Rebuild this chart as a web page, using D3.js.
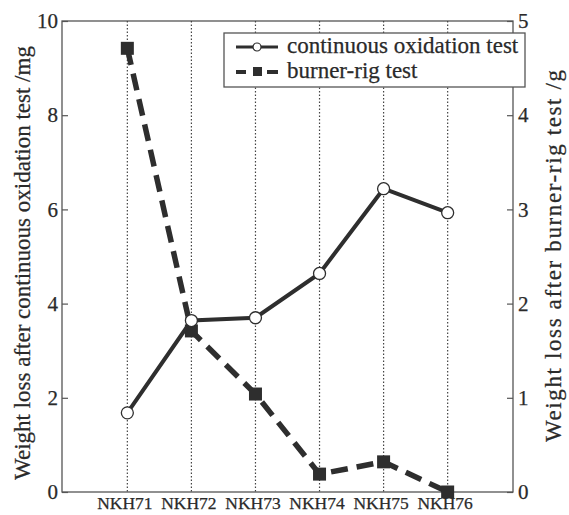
<!DOCTYPE html>
<html><head><meta charset="utf-8">
<script src="https://cdn.jsdelivr.net/npm/d3@7"></script>
<style>body{margin:0;background:#fff}</style>
</head><body><svg id="c" width="569" height="515"></svg>
<script>
const categories = ["NKH71","NKH72","NKH73","NKH74","NKH75","NKH76"];
const oxidation = [1.68, 3.64, 3.7, 4.64, 6.44, 5.93];
const burner = [4.71, 1.71, 1.04, 0.19, 0.32, 0.0];
const leftTicks = [0,2,4,6,8,10];
const rightTicks = [0,1,2,3,4,5];
const seriesNames = ["continuous oxidation test","burner-rig test"];
const leftTitle = "Weight loss after continuous oxidation test  /mg";
const rightTitle = "Weight loss after burner-rig test  /g";

const FONT = "Liberation Serif";
const TXT = "#2a2a2a";
const svg = d3.select("#c");
const L=62, R=513, T=21, B=492;
const col="#2e2e2e";
const x = d3.scalePoint().domain(categories).range([L,R]).padding(1.02);
const yL = d3.scaleLinear().domain([0,10]).range([B,T]);
const yR = d3.scaleLinear().domain([0,5]).range([B,T]);

function styleText(sel, size){
  sel.attr("font-family",FONT).attr("font-size",size).attr("fill",TXT)
     .attr("stroke",TXT).attr("stroke-width",0.25);
  return sel;
}

// frame
svg.append("rect").attr("x",L).attr("y",T).attr("width",R-L).attr("height",B-T)
  .attr("fill","none").attr("stroke","#555").attr("stroke-width",1.3);
// dotted verticals
svg.selectAll("line.g").data(categories).join("line")
  .attr("x1",d=>x(d)).attr("x2",d=>x(d)).attr("y1",T).attr("y2",B)
  .attr("stroke","#444").attr("stroke-width",1.2).attr("stroke-dasharray","1.5,2");

// axes
const ax = svg.append("g").attr("transform",`translate(${L},0)`)
  .call(d3.axisLeft(yL).tickValues(leftTicks).tickSize(-6).tickPadding(4).tickFormat(d3.format("d")));
const ar = svg.append("g").attr("transform",`translate(${R},0)`)
  .call(d3.axisRight(yR).tickValues(rightTicks).tickSize(-6).tickPadding(5).tickFormat(d3.format("d")));
[ax,ar].forEach(a=>{a.select(".domain").remove();a.selectAll("line").attr("stroke","#555").attr("stroke-width",1.2);
  styleText(a.selectAll("text"),21);});
const ab = svg.append("g").attr("transform",`translate(0,${B})`)
  .call(d3.axisBottom(x).tickSize(0).tickPadding(5));
ab.select(".domain").remove();
styleText(ab.selectAll("text"),17.5);
ab.selectAll("text").attr("dx",-3);

// titles
styleText(svg.append("text").attr("transform",`translate(30,263) rotate(-90)`).attr("text-anchor","middle")
  .text(leftTitle), 23);
styleText(svg.append("text").attr("transform",`translate(561,256) rotate(-90)`).attr("text-anchor","middle")
  .attr("textLength",372).attr("lengthAdjust","spacing")
  .text(rightTitle), 23);

// burner line
svg.append("path").datum(burner)
  .attr("d",d3.line().x((d,i)=>x(categories[i])).y(d=>yR(d)))
  .attr("fill","none").attr("stroke",col).attr("stroke-width",5.5).attr("stroke-dasharray","17,9");
svg.selectAll("rect.s").data(burner).join("rect")
  .attr("x",(d,i)=>x(categories[i])-6.5).attr("y",d=>yR(d)-6.5).attr("width",13).attr("height",13).attr("fill",col);
// oxidation line
svg.append("path").datum(oxidation)
  .attr("d",d3.line().x((d,i)=>x(categories[i])).y(d=>yL(d)))
  .attr("fill","none").attr("stroke",col).attr("stroke-width",4);
svg.selectAll("circle.o").data(oxidation).join("circle")
  .attr("cx",(d,i)=>x(categories[i])).attr("cy",d=>yL(d)).attr("r",6)
  .attr("fill","#fff").attr("stroke",col).attr("stroke-width",1.3);

// legend
const lg = svg.append("g");
lg.append("rect").attr("x",224).attr("y",33).attr("width",301).attr("height",54)
  .attr("fill","#fff").attr("stroke","#555").attr("stroke-width",1.3);
lg.append("line").attr("x1",236).attr("x2",278).attr("y1",47).attr("y2",47).attr("stroke",col).attr("stroke-width",3);
lg.append("circle").attr("cx",257).attr("cy",47).attr("r",4).attr("fill","#fff").attr("stroke",col).attr("stroke-width",1.2);
lg.append("line").attr("x1",236).attr("x2",278).attr("y1",72).attr("y2",72).attr("stroke",col).attr("stroke-width",4).attr("stroke-dasharray","10,7,8,6,11");
lg.append("rect").attr("x",253).attr("y",67).attr("width",9).attr("height",9).attr("fill",col);
styleText(lg.append("text").attr("x",287).attr("y",53).text(seriesNames[0]),23);
styleText(lg.append("text").attr("x",287).attr("y",78).text(seriesNames[1]),23);
</script></body></html>
